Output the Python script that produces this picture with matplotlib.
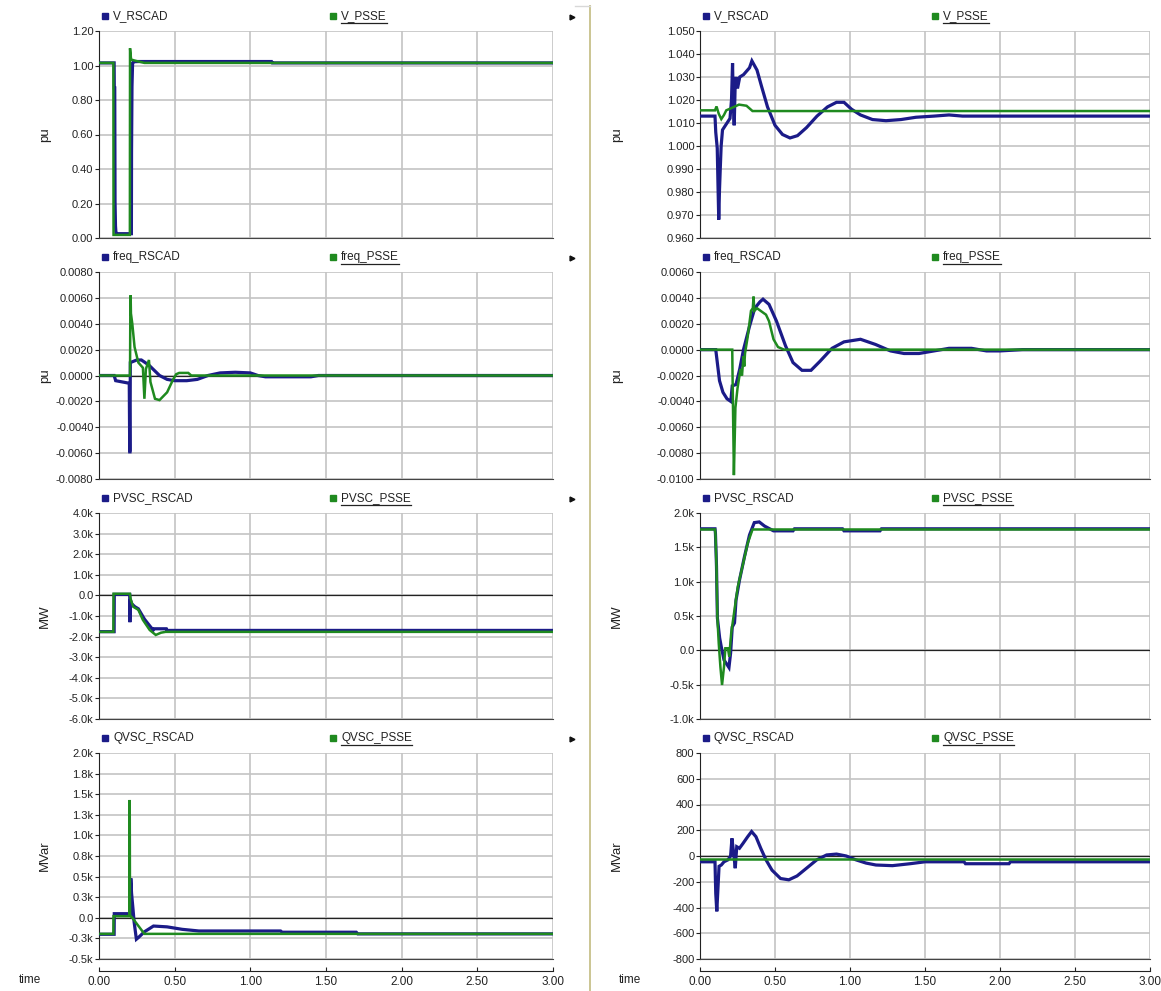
import matplotlib
matplotlib.use("Agg")
import matplotlib.pyplot as plt
from matplotlib.lines import Line2D

plt.rcParams['font.family'] = ['Liberation Sans', 'DejaVu Sans']

# ---------------- left column: fault case A ----------------
v_rscad_a_t = [0, 0.10, 0.101, 0.104, 0.106, 0.109, 0.112, 0.12, 0.214, 0.215, 0.218, 0.222, 0.23, 0.26, 1.14, 1.145, 3.0]
v_rscad_a = [1.015, 1.015, 0.87, 0.87, 0.21, 0.07, 0.03, 0.025, 0.025, 0.50, 0.88, 1.015, 1.022, 1.023, 1.023, 1.015, 1.015]
v_psse_a_t = [0, 0.095, 0.096, 0.204, 0.205, 0.212, 0.23, 0.30, 3.0]
v_psse_a = [1.015, 1.015, 0.018, 0.018, 1.10, 1.035, 1.03, 1.015, 1.015]

f_rscad_a_t = [0, 0.10, 0.11, 0.20, 0.203, 0.205, 0.207, 0.25, 0.28, 0.33, 0.40, 0.45, 0.50, 0.58, 0.65, 0.72,
               0.80, 0.90, 1.00, 1.05, 1.10, 1.40, 1.45, 3.0]
f_rscad_a = [0, 0, -0.0004, -0.0006, -0.0059, -0.0059, 0.0010, 0.0012, 0.0012, 0.0008, 0.0, -0.0003, -0.0004,
             -0.0004, -0.0003, 0.0, 0.0002, 0.00025, 0.0002, 0.0, -0.0001, -0.0001, 0.0, 0.0]
f_psse_a_t = [0, 0.205, 0.207, 0.209, 0.211, 0.22, 0.235, 0.26, 0.29, 0.30, 0.31, 0.33, 0.34, 0.37, 0.40, 0.45,
              0.49, 0.51, 0.53, 0.59, 0.61, 3.0]
f_psse_a = [0, 0, 0.0052, 0.0062, 0.0048, 0.0040, 0.0022, 0.0010, 0.0006, -0.0018, 0.0005, 0.0012, -0.0005,
            -0.0018, -0.0019, -0.0013, -0.0003, 0.0001, 0.0002, 0.0002, 0.0, 0.0]

p_rscad_a_t = [0, 0.10, 0.101, 0.203, 0.204, 0.207, 0.215, 0.237, 0.26, 0.30, 0.357, 0.36, 0.445, 0.45, 3.0]
p_rscad_a = [-1760, -1760, 50, 50, -1300, -200, -400, -550, -650, -1150, -1680, -1620, -1620, -1700, -1700]
p_psse_a_t = [0, 0.095, 0.096, 0.204, 0.21, 0.226, 0.26, 0.29, 0.335, 0.375, 0.41, 0.44, 3.0]
p_psse_a = [-1770, -1770, 80, 80, -200, -550, -700, -1190, -1680, -1920, -1810, -1770, -1770]

q_rscad_a_t = [0, 0.10, 0.101, 0.205, 0.208, 0.21, 0.215, 0.225, 0.232, 0.247, 0.26, 0.30, 0.36, 0.45, 0.55,
               0.66, 0.70, 1.20, 1.21, 1.70, 1.71, 3.0]
q_rscad_a = [-200, -200, 50, 50, 20, 480, 300, 100, -50, -260, -240, -170, -100, -110, -140, -160, -160,
             -160, -175, -175, -195, -195]
q_psse_a_t = [0, 0.095, 0.096, 0.20, 0.203, 0.205, 0.21, 0.22, 0.30, 3.0]
q_psse_a = [-195, -195, 20, 20, 1430, 30, 20, 0, -195, -195]

# ---------------- right column: fault case B ----------------
v_rscad_b_t = [0, 0.10, 0.105, 0.115, 0.12, 0.125, 0.13, 0.135, 0.141, 0.15, 0.17, 0.19, 0.20, 0.21, 0.217,
               0.22, 0.228, 0.235, 0.24, 0.25, 0.265, 0.29, 0.33, 0.346, 0.38, 0.41, 0.45, 0.50, 0.55, 0.60,
               0.65, 0.71, 0.78, 0.85, 0.91, 0.96, 1.01, 1.07, 1.15, 1.24, 1.34, 1.44, 1.56, 1.66, 1.75, 3.0]
v_rscad_b = [1.013, 1.013, 1.006, 0.999, 0.983, 0.968, 0.981, 0.990, 1.000, 1.007, 1.009, 1.011, 1.012,
             1.020, 1.036, 1.025, 1.009, 1.028, 1.030, 1.025, 1.030, 1.031, 1.034, 1.037, 1.033, 1.026,
             1.017, 1.009, 1.005, 1.0035, 1.0045, 1.008, 1.013, 1.017, 1.019, 1.019, 1.016, 1.0135, 1.0115,
             1.011, 1.0115, 1.0125, 1.013, 1.0135, 1.013, 1.013]
v_psse_b_t = [0, 0.10, 0.11, 0.125, 0.142, 0.16, 0.175, 0.21, 0.26, 0.31, 0.35, 3.0]
v_psse_b = [1.0155, 1.0155, 1.0172, 1.0140, 1.0117, 1.0135, 1.0155, 1.0165, 1.0180, 1.0175, 1.0152, 1.0152]

f_rscad_b_t = [0, 0.105, 0.13, 0.153, 0.18, 0.205, 0.215, 0.24, 0.265, 0.29, 0.33, 0.365, 0.40, 0.42, 0.46,
               0.51, 0.57, 0.62, 0.68, 0.74, 0.80, 0.88, 0.96, 1.07, 1.17, 1.27, 1.36, 1.46, 1.56, 1.66,
               1.81, 1.91, 2.0, 2.15, 3.0]
f_rscad_b = [0, 0, -0.0024, -0.0033, -0.0038, -0.0040, -0.0028, -0.0027, -0.0015, 0.0, 0.0018, 0.0032,
             0.0037, 0.0039, 0.0035, 0.0022, 0.0003, -0.0010, -0.0016, -0.0016, -0.0009, 0.0001, 0.0006,
             0.0008, 0.0004, -0.0001, -0.0003, -0.0003, -0.0001, 0.0001, 0.0001, -0.0001, -0.0001, 0.0, 0.0]
f_psse_b_t = [0, 0.215, 0.217, 0.226, 0.236, 0.25, 0.27, 0.28, 0.29, 0.295, 0.30, 0.318, 0.34, 0.352, 0.357,
              0.362, 0.38, 0.44, 0.46, 0.49, 0.52, 0.56, 3.0]
f_psse_b = [0, 0, -0.0020, -0.0097, -0.0045, -0.0030, -0.0015, -0.0020, -0.0005, -0.0013, -0.0003, 0.0010,
            0.0030, 0.0032, 0.0041, 0.0030, 0.0032, 0.0027, 0.0022, 0.0008, 0.0002, 0.0, 0.0]

p_rscad_b_t = [0, 0.10, 0.103, 0.11, 0.116, 0.131, 0.142, 0.16, 0.175, 0.193, 0.204, 0.215, 0.23, 0.24,
               0.263, 0.296, 0.33, 0.362, 0.395, 0.43, 0.46, 0.49, 0.62, 0.63, 0.95, 0.96, 1.2, 1.21, 3.0]
p_rscad_b = [1770, 1770, 1700, 1220, 470, 180, 50, -140, -190, -250, -40, 340, 400, 730, 1020, 1360, 1680,
             1860, 1870, 1810, 1775, 1740, 1740, 1770, 1770, 1740, 1740, 1770, 1770]
p_psse_b_t = [0, 0.10, 0.103, 0.11, 0.116, 0.125, 0.136, 0.147, 0.16, 0.169, 0.186, 0.195, 0.208, 0.23,
              0.252, 0.285, 0.318, 0.35, 3.0]
p_psse_b = [1760, 1760, 1700, 1220, 470, 100, -240, -505, -240, 30, 30, -90, 250, 590, 925, 1240, 1560,
            1760, 1760]

q_rscad_b_t = [0, 0.10, 0.105, 0.112, 0.118, 0.127, 0.142, 0.16, 0.186, 0.204, 0.213, 0.224, 0.235, 0.245,
               0.263, 0.285, 0.318, 0.344, 0.373, 0.405, 0.44, 0.48, 0.537, 0.592, 0.647, 0.71, 0.778,
               0.844, 0.91, 0.975, 1.04, 1.107, 1.173, 1.283, 1.40, 1.50, 1.76, 1.77, 2.06, 2.07, 3.0]
q_rscad_b = [-45, -45, -290, -430, -290, -80, -70, -45, -30, 0, 137, 25, -95, 72, 60, 95, 150, 190, 150,
             60, -30, -110, -175, -185, -155, -95, -30, 8, 15, 0, -30, -55, -70, -75, -60, -45, -45, -60,
             -60, -45, -45]
q_psse_b_t = [0, 3.0]
q_psse_b = [-20, -20]

# y axis ticks and their labels
ticks_v_a = [0.0, 0.2, 0.4, 0.6, 0.8, 1.0, 1.2]
ticks_v_b = [0.960, 0.970, 0.980, 0.990, 1.000, 1.010, 1.020, 1.030, 1.040, 1.050]
ticks_f_a = [-0.008, -0.006, -0.004, -0.002, 0.0, 0.002, 0.004, 0.006, 0.008]
ticks_f_b = [-0.010, -0.008, -0.006, -0.004, -0.002, 0.0, 0.002, 0.004, 0.006]
ticks_p_a = [-6000, -5000, -4000, -3000, -2000, -1000, 0, 1000, 2000, 3000, 4000]
labels_p_a = ['-6.0k', '-5.0k', '-4.0k', '-3.0k', '-2.0k', '-1.0k', '0.0', '1.0k', '2.0k', '3.0k', '4.0k']
ticks_p_b = [-1000, -500, 0, 500, 1000, 1500, 2000]
labels_p_b = ['-1.0k', '-0.5k', '0.0', '0.5k', '1.0k', '1.5k', '2.0k']
ticks_q_a = [-500, -250, 0, 250, 500, 750, 1000, 1250, 1500, 1750, 2000]
labels_q_a = ['-0.5k', '-0.3k', '0.0', '0.3k', '0.5k', '0.8k', '1.0k', '1.3k', '1.5k', '1.8k', '2.0k']
ticks_q_b = [-800, -600, -400, -200, 0, 200, 400, 600, 800]
time_ticks = [0.0, 0.5, 1.0, 1.5, 2.0, 2.5, 3.0]

BLUE = '#1b1b88'
GREEN = '#1f8a1f'
GRID = '#c4c4c4'
TXT = '#222222'
W, H = 1161, 991


def add_panel(fig, x0, x1, y0, y1, rscad, psse, names, yticks, ylabels, ylab, zero_line, last, ylab_x, time_x):
    ax = fig.add_axes([x0 / W, 1 - y1 / H, (x1 - x0) / W, (y1 - y0) / H])
    ax.set_xlim(0, 3.0)
    ax.set_ylim(yticks[0], yticks[-1])
    ax.set_xticks(time_ticks)
    ax.set_yticks(yticks)
    ax.set_yticklabels(ylabels)
    ax.grid(True, color=GRID, lw=1.2)
    ax.set_axisbelow(True)
    for s in ('top', 'right'):
        ax.spines[s].set_visible(False)
    ax.spines['left'].set_color(TXT)
    ax.spines['bottom'].set_color('#444444')
    ax.tick_params(axis='y', labelsize=8, length=3, color=TXT, labelcolor=TXT, pad=1)
    ax.tick_params(axis='x', length=0, labelbottom=False)
    if zero_line:
        ax.axhline(0, color=TXT, lw=0.9, zorder=2)

    ax.plot(rscad[0], rscad[1], color=BLUE, lw=2.3, zorder=3, solid_joinstyle='miter')
    ax.plot(psse[0], psse[1], color=GREEN, lw=1.8, zorder=4, solid_joinstyle='miter')

    ax.set_ylabel(ylab, fontsize=9.5, color=TXT)
    ax.yaxis.set_label_coords((ylab_x - x0) / (x1 - x0), 0.5)

    # legend row above the plot area
    ly = 1 + 15.0 / (y1 - y0)
    bx = (6.0 / (x1 - x0), 0.516 if x0 < 500 else 0.523)
    psse_label = None
    for i, (name, col) in enumerate(zip(names, (BLUE, GREEN))):
        ax.add_line(Line2D([bx[i]], [ly], marker='s', ms=4.5, color=col, transform=ax.transAxes,
                           clip_on=False))
        t = ax.text(bx[i] + 8.0 / (x1 - x0), ly, name, transform=ax.transAxes, fontsize=8.5,
                    va='center', ha='left', color=TXT)
        if i == 1:
            psse_label = t

    if last:
        sec = ax.secondary_xaxis(-12.0 / (y1 - y0))
        sec.set_xticks(time_ticks)
        sec.set_xticklabels(['%.2f' % t for t in time_ticks])
        sec.tick_params(labelsize=8.5, direction='in', length=3, color=TXT, labelcolor=TXT, pad=3.5)
        sec.spines['bottom'].set_color(TXT)
        ax.text((time_x - x0) / (x1 - x0), -(980 - y1) / (y1 - y0), 'time',
                transform=ax.transAxes, fontsize=8.5, ha='center', va='center', color=TXT)
    return ax, psse_label


fig = plt.figure(figsize=(W / 100, H / 100), dpi=100)

rows = [(31, 238), (272, 479), (513, 719), (753, 959)]
cols = [(99, 553, 51, 30), (700, 1150, 623, 630)]

left = [
    ((v_rscad_a_t, v_rscad_a), (v_psse_a_t, v_psse_a), ('V_RSCAD', 'V_PSSE'),
     ticks_v_a, ['%.2f' % v for v in ticks_v_a], 'pu', False),
    ((f_rscad_a_t, f_rscad_a), (f_psse_a_t, f_psse_a), ('freq_RSCAD', 'freq_PSSE'),
     ticks_f_a, ['%.4f' % v for v in ticks_f_a], 'pu', True),
    ((p_rscad_a_t, p_rscad_a), (p_psse_a_t, p_psse_a), ('PVSC_RSCAD', 'PVSC_PSSE'),
     ticks_p_a, labels_p_a, 'MW', True),
    ((q_rscad_a_t, q_rscad_a), (q_psse_a_t, q_psse_a), ('QVSC_RSCAD', 'QVSC_PSSE'),
     ticks_q_a, labels_q_a, 'MVar', True),
]
right = [
    ((v_rscad_b_t, v_rscad_b), (v_psse_b_t, v_psse_b), ('V_RSCAD', 'V_PSSE'),
     ticks_v_b, ['%.3f' % v for v in ticks_v_b], 'pu', False),
    ((f_rscad_b_t, f_rscad_b), (f_psse_b_t, f_psse_b), ('freq_RSCAD', 'freq_PSSE'),
     ticks_f_b, ['%.4f' % v for v in ticks_f_b], 'pu', True),
    ((p_rscad_b_t, p_rscad_b), (p_psse_b_t, p_psse_b), ('PVSC_RSCAD', 'PVSC_PSSE'),
     ticks_p_b, labels_p_b, 'MW', True),
    ((q_rscad_b_t, q_rscad_b), (q_psse_b_t, q_psse_b), ('QVSC_RSCAD', 'QVSC_PSSE'),
     ticks_q_b, ['%d' % v for v in ticks_q_b], 'MVar', True),
]

labels = []
for (x0, x1, ylab_x, time_x), panels in zip(cols, (left, right)):
    for i, ((y0, y1), p) in enumerate(zip(rows, panels)):
        ax, lab = add_panel(fig, x0, x1, y0, y1, p[0], p[1], p[2], p[3], p[4], p[5], p[6], i == 3,
                            ylab_x, time_x)
        labels.append(lab)

# underline under the PSSE legend entries
fig.canvas.draw()
r = fig.canvas.get_renderer()
for lab in labels:
    bb = lab.get_window_extent(r)
    yl = bb.y0 - 1
    fig.add_artist(Line2D([bb.x0 / W, bb.x1 / W], [yl / H, yl / H], color=TXT, lw=0.9))

# small markers at the right of the left column and the divider between the two columns
for y0, y1 in rows:
    fig.add_artist(Line2D([572 / W], [1 - (y0 - 14) / H], marker='>', ms=3.5, color='#111111'))
fig.add_artist(Line2D([590 / W, 590 / W], [0, 1 - 6 / H], color='#cbc593', lw=1.4))
fig.add_artist(Line2D([575 / W, 590 / W], [1 - 6 / H, 1 - 6 / H], color='#d8d8d8', lw=1.0))

fig.savefig('out.png', dpi=100)
